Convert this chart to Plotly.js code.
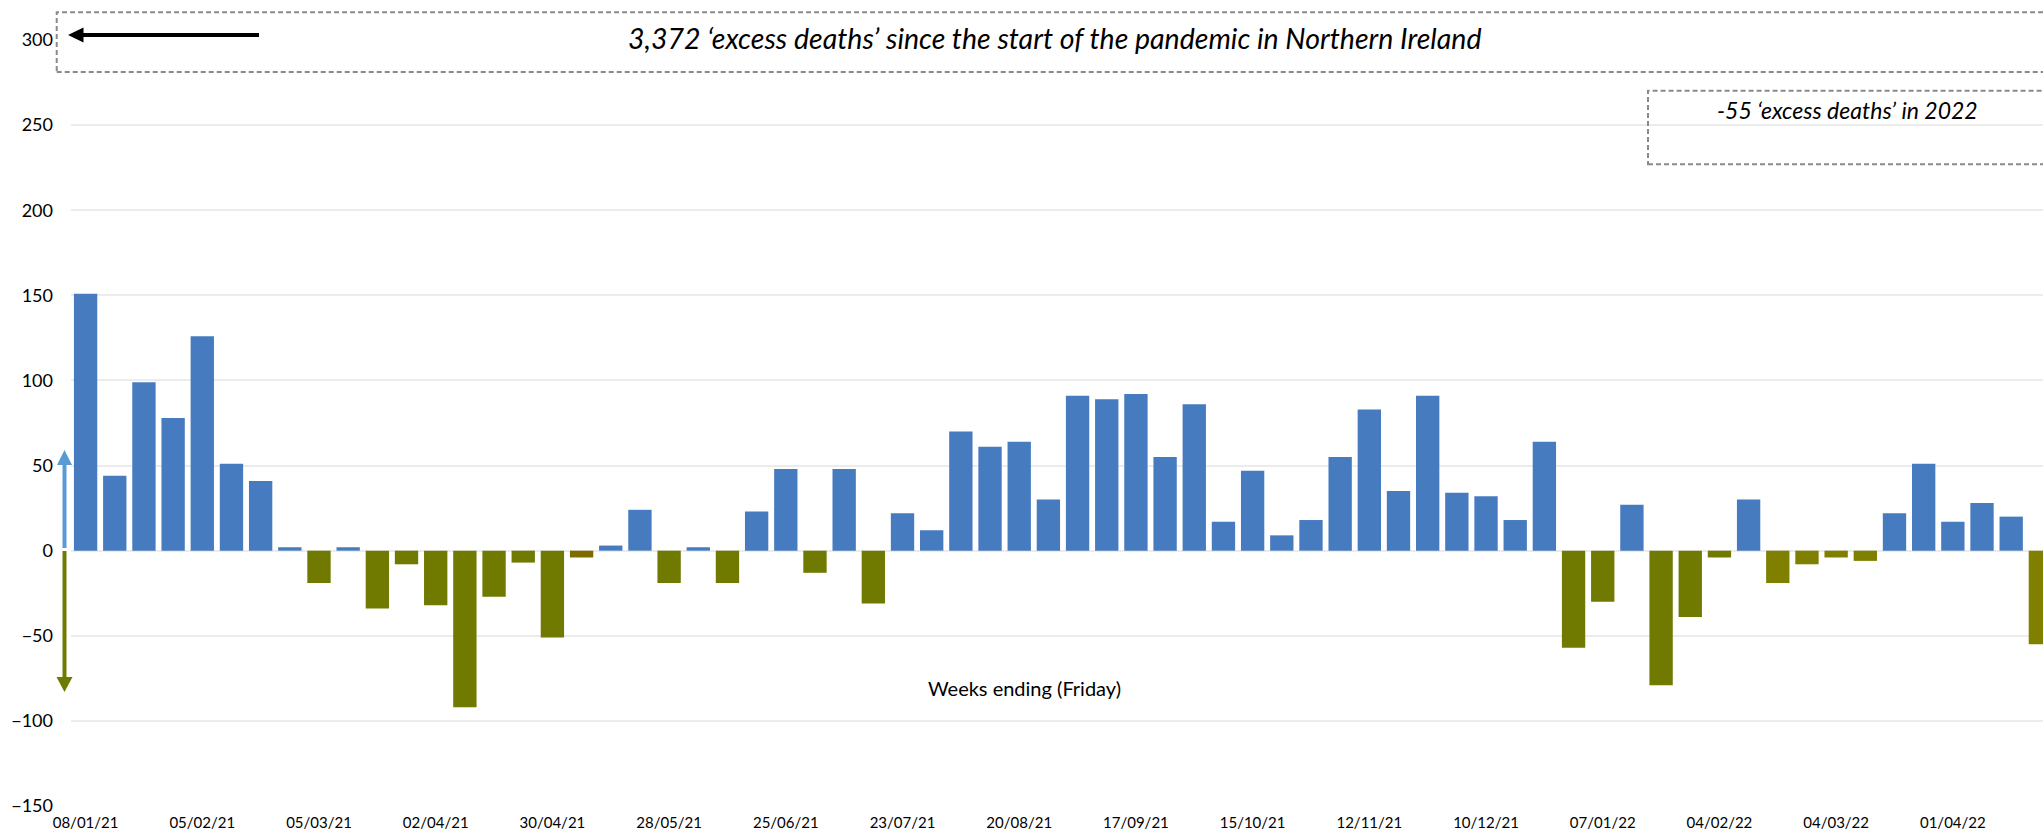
<!DOCTYPE html>
<html>
<head>
<meta charset="utf-8">
<script src="https://cdn.plot.ly/plotly-3.0.1.min.js"></script>
<style>html,body{margin:0;padding:0;background:#fff;overflow:hidden}</style>
</head>
<body>
<div id="chart" style="width:2043px;height:835px"></div>
<script>
// ---- data ----
const weeks = [
 "08/01/21","15/01/21","22/01/21","29/01/21","05/02/21","12/02/21","19/02/21","26/02/21",
 "05/03/21","12/03/21","19/03/21","26/03/21","02/04/21","09/04/21","16/04/21","23/04/21",
 "30/04/21","07/05/21","14/05/21","21/05/21","28/05/21","04/06/21","11/06/21","18/06/21",
 "25/06/21","02/07/21","09/07/21","16/07/21","23/07/21","30/07/21","06/08/21","13/08/21",
 "20/08/21","27/08/21","03/09/21","10/09/21","17/09/21","24/09/21","01/10/21","08/10/21",
 "15/10/21","22/10/21","29/10/21","05/11/21","12/11/21","19/11/21","26/11/21","03/12/21",
 "10/12/21","17/12/21","24/12/21","31/12/21","07/01/22","14/01/22","21/01/22","28/01/22",
 "04/02/22","11/02/22","18/02/22","25/02/22","04/03/22","11/03/22","18/03/22","25/03/22",
 "01/04/22","08/04/22","15/04/22","22/04/22"
];
const excessDeaths = [
 151, 44, 99, 78, 126, 51, 41, 2,
 -19, 2, -34, -8, -32, -92, -27, -7,
 -51, -4, 3, 24, -19, 2, -19, 23,
 48, -13, 48, -31, 22, 12, 70, 61,
 64, 30, 91, 89, 92, 55, 86, 17,
 47, 9, 18, 55, 83, 35, 91, 34,
 32, 18, 64, -57, -30, 27, -79, -39,
 -4, 30, -19, -8, -4, -6, 22, 51,
 17, 28, 20, -55
];
const tickLabels = ["08/01/21","05/02/21","05/03/21","02/04/21","30/04/21","28/05/21","25/06/21",
 "23/07/21","20/08/21","17/09/21","15/10/21","12/11/21","10/12/21","07/01/22","04/02/22",
 "04/03/22","01/04/22"];
const yTicks = [-150, -100, -50, 0, 50, 100, 150, 200, 250, 300];
const titleText = "3,372 \u2018excess deaths\u2019 since the start of the pandemic in Northern Ireland";
const note2022 = "-55 \u2018excess deaths\u2019 in 2022";
const xTitle = "Weeks ending (Friday)";

// ---- styling ----
const BLUE = "#467BBF", OLIVE = "#707A00", OLIVE2 = "#808000", BROWN = "#7C6C00";
const lightOlive = new Set(["18/02/22","25/02/22","04/03/22","11/03/22","22/04/22"]);
const brownish = new Set(["07/05/21"]);
const colors = weeks.map((w, i) => {
  if (excessDeaths[i] >= 0) return BLUE;
  if (brownish.has(w)) return BROWN;
  if (lightOlive.has(w)) return OLIVE2;
  return OLIVE;
});

const W = 2043, H = 835, ML = 71, MR = 0, MT = 40, MB = 29;
const PW = W - ML - MR, PH = H - MT - MB;
const X = px => (px - ML) / PW;
const Y = py => 1 - (py - MT) / PH;
const FONT = "Lato, 'Noto Sans', 'Open Sans', sans-serif";

function hArrowLeft(x1, x0, y, hw, hl, col, lw) {
  return [
    {type:"line", xref:"paper", yref:"paper", x0:X(x0 + hl - 1), x1:X(x1), y0:Y(y), y1:Y(y),
     line:{color:col, width:lw}, layer:"above"},
    {type:"path", xref:"paper", yref:"paper", layer:"above",
     path:`M ${X(x0)},${Y(y)} L ${X(x0+hl)},${Y(y-hw)} L ${X(x0+hl)},${Y(y+hw)} Z`,
     fillcolor:col, line:{color:col, width:0}}
  ];
}
function vArrow(x, yStart, yTip, hw, hl, col, lw) {
  const dir = yTip < yStart ? 1 : -1; // 1: pointing up
  const base = yTip + dir * hl;
  return [
    {type:"line", xref:"paper", yref:"paper", x0:X(x), x1:X(x), y0:Y(yStart), y1:Y(base - dir),
     line:{color:col, width:lw}, layer:"above"},
    {type:"path", xref:"paper", yref:"paper", layer:"above",
     path:`M ${X(x)},${Y(yTip)} L ${X(x-hw)},${Y(base)} L ${X(x+hw)},${Y(base)} Z`,
     fillcolor:col, line:{color:col, width:0}}
  ];
}

const shapes = [
  {type:"rect", xref:"paper", yref:"paper", x0:X(56.7), x1:X(2060), y0:Y(72), y1:Y(12.3),
   fillcolor:"#ffffff", line:{color:"#8a8a8a", width:2, dash:"5px,3px"}, layer:"above"},
  {type:"rect", xref:"paper", yref:"paper", x0:X(1648), x1:X(2060), y0:Y(164.3), y1:Y(90.7),
   fillcolor:"rgba(0,0,0,0)", line:{color:"#8a8a8a", width:2, dash:"5px,3px"}, layer:"above"},
  ...hArrowLeft(259, 68, 35, 7.5, 15.5, "#000000", 4),
  ...vArrow(64.5, 548, 450, 7.5, 15, "#5B9BD5", 4),
  ...vArrow(64.5, 551, 692, 8, 15, "#6F7A00", 4)
];

const data = [{
  type:"bar", x:weeks, y:excessDeaths,
  marker:{color:colors, line:{width:0}},
  hoverinfo:"x+y"
}];

const layout = {
  width:W, height:H,
  margin:{l:ML, r:MR, t:MT, b:MB, pad:0},
  paper_bgcolor:"#ffffff", plot_bgcolor:"#ffffff",
  showlegend:false, bargap:0.2,
  font:{family:FONT, color:"#000000"},
  xaxis:{
    type:"category", range:[-0.5, 67.09], tickmode:"array",
    tickvals:tickLabels, ticktext:tickLabels, tickangle:0,
    showgrid:false, zeroline:false, showline:false, ticks:"",
    tickfont:{family:FONT, size:15, color:"#000"}, ticklabelstandoff:6,
    fixedrange:true
  },
  yaxis:{
    range:[-150, 300], tickmode:"array", tickvals:yTicks,
    showgrid:true, gridcolor:"#ECECEC", gridwidth:2,
    zeroline:true, zerolinecolor:"#ECECEC", zerolinewidth:2,
    showline:false, ticks:"", tickfont:{family:FONT, size:18, color:"#000"},
    ticklabelstandoff:17, fixedrange:true
  },
  shapes:shapes,
  annotations:[
    {xref:"paper", yref:"paper", x:X(1054), y:Y(38), xanchor:"center", yanchor:"middle",
     text:"<i>"+titleText+"</i>", showarrow:false, font:{family:FONT, size:28.5, color:"#000"}},
    {xref:"paper", yref:"paper", x:X(1847), y:Y(110), xanchor:"center", yanchor:"middle",
     text:"<i>"+note2022+"</i>", showarrow:false, font:{family:FONT, size:23, color:"#000"}},
    {xref:"paper", yref:"paper", x:X(1024.5), y:Y(688.3), xanchor:"center", yanchor:"middle",
     text:xTitle, showarrow:false, font:{family:FONT, size:20, color:"#000"}}
  ]
};

Plotly.newPlot("chart", data, layout, {staticPlot:true, displayModeBar:false});
</script>
</body>
</html>
